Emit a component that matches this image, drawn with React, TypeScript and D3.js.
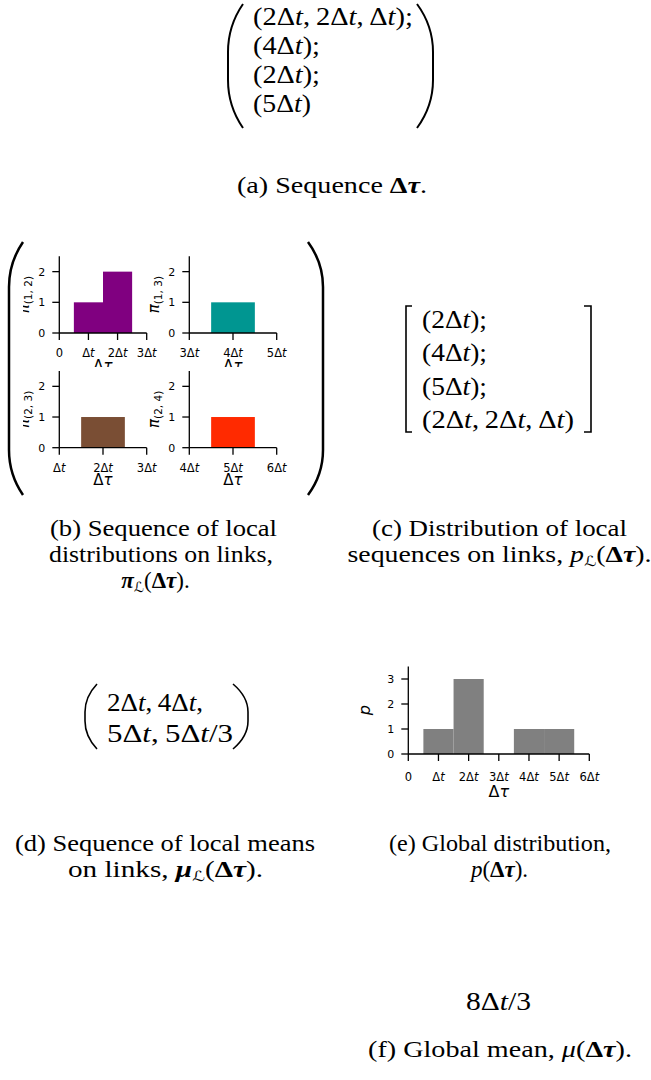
import * as d3 from 'd3';

// (a) sequence of inter-event times per link, in units of Δt
const seqA = [[2, 2, 1], [4], [2], [5]];
// (c) distribution of local sequences
const seqC = [[2], [4], [5], [2, 2, 1]];

// (b) local distributions on links
const linkNames = ['(1, 2)', '(1, 3)', '(2, 3)', '(2, 4)'];
const linkColors = ['#800080', '#009691', '#7a4e34', '#ff2a00'];
const linkDomains = [[0, 3], [3, 5], [1, 3], [4, 6]];
const linkTicks = [[0, 1, 2, 3], [3, 4, 5], [1, 2, 3], [4, 5, 6]];
const linkCenters = [[1, 2], [4], [2], [5]];
const linkCounts = [[1, 2], [1], [1], [1]];
const localTicksY = [0, 1, 2];

// (d) local means: numerator / denominator in Δt
const meanNum = [2, 4, 5, 5];
const meanDen = [1, 1, 1, 3];

// (e) global distribution
const globalCenters = [1, 2, 4, 5];
const globalCounts = [1, 3, 1, 1];
const globalTicksX = [0, 1, 2, 3, 4, 5, 6];
const globalTicksY = [0, 1, 2, 3];

// (f) global mean
const globalMean = [8, 3];

const SERIF = "'Liberation Serif', serif";
const SANS = "'DejaVu Sans', sans-serif";
const MATH_SIZE = 25;
const CAP_SIZE = 23;

const tickText = (n: number) =>
  n === 0 ? (
    '0'
  ) : (
    <>
      {n === 1 ? '' : n}Δ<tspan fontStyle="italic">t</tspan>
    </>
  );

const mult = (n: number, den = 1) => (
  <>
    {n === 1 ? '' : n}Δ<tspan fontStyle="italic">t</tspan>
    {den !== 1 ? `/${den}` : ''}
  </>
);

const BoldDtau = () => (
  <>
    (<tspan fontWeight="bold">Δ</tspan>
    <tspan fontWeight="bold" fontStyle="italic">τ</tspan>)
  </>
);

const SubL = () => (
  <tspan fontFamily={SANS} fontStyle="italic" fontSize={14} dy={4}>
    ℒ
  </tspan>
);

// parenthesis made of a curved top, straight middle, curved bottom
function parenPath(xTop: number, yTop: number, yBot: number, xExt: number, k: number) {
  const dx = xTop - xExt;
  return `M${xTop},${yTop} C${xTop - 0.55 * dx},${yTop + 0.25 * k} ${xExt},${yTop + 0.6 * k} ${xExt},${yTop + k}
    L${xExt},${yBot - k} C${xExt},${yBot - 0.6 * k} ${xTop - 0.55 * dx},${yBot - 0.25 * k} ${xTop},${yBot}`;
}

type HistProps = {
  left: number;
  bottom: number;
  width: number;
  height: number;
  xDomain: number[];
  yMax: number;
  xTicks: number[];
  yTicks: number[];
  centers: number[];
  counts: number[];
  color: string;
  ylabel: JSX.Element;
  ylabelGap: number;
  xlabelGap: number;
  xlabelSize: number;
  tickGap: number;
};

const Hist = ({
  left,
  bottom,
  width,
  height,
  xDomain,
  yMax,
  xTicks,
  yTicks,
  centers,
  counts,
  color,
  ylabel,
  ylabelGap,
  xlabelGap,
  xlabelSize,
  tickGap,
}: HistProps) => {
  const x = d3.scaleLinear().domain(xDomain).range([left, left + width]);
  const y = d3.scaleLinear().domain([0, yMax]).range([bottom, bottom - height]);
  const tick = 7;
  return (
    <g>
      {/* axes patch hides anything drawn under it */}
      <rect x={left} y={bottom - height - 4} width={width} height={height + 4} fill="white" />
      {centers.map((c, i) => (
        <rect
          key={i}
          x={x(c - 0.5)}
          y={y(counts[i])}
          width={x(c + 0.5) - x(c - 0.5)}
          height={y(0) - y(counts[i])}
          fill={color}
        />
      ))}
      <line x1={left} x2={left} y1={bottom - height} y2={bottom} stroke="black" strokeWidth={1.3} />
      <line x1={left} x2={left + width} y1={bottom} y2={bottom} stroke="black" strokeWidth={1.3} />
      {yTicks.map((t) => (
        <g key={'y' + t}>
          <line x1={left - tick} x2={left} y1={y(t)} y2={y(t)} stroke="black" strokeWidth={1.3} />
          <text
            x={left - tick - 7}
            y={y(t)}
            dy="0.36em"
            textAnchor="end"
            fontFamily={SANS}
            fontSize={11}
          >
            {t}
          </text>
        </g>
      ))}
      {xTicks.map((t) => (
        <g key={'x' + t}>
          <line x1={x(t)} x2={x(t)} y1={bottom} y2={bottom + tick} stroke="black" strokeWidth={1.3} />
          <text
            x={x(t)}
            y={bottom + tickGap}
            dy="0.36em"
            textAnchor="middle"
            fontFamily={SANS}
            fontSize={11.5}
          >
            {tickText(t)}
          </text>
        </g>
      ))}
      <text
        x={left + width / 2}
        y={bottom + xlabelGap}
        textAnchor="middle"
        fontFamily={SANS}
        fontSize={xlabelSize}
      >
        Δ<tspan fontStyle="italic">τ</tspan>
      </text>
      <text
        transform={`translate(${left - ylabelGap},${bottom - height / 2}) rotate(-90)`}
        textAnchor="middle"
        fontFamily={SANS}
      >
        {ylabel}
      </text>
    </g>
  );
};

// one row of a sequence: (2Δt, 2Δt, Δt);
const SeqRow = ({ row, last }: { row: number[]; last: boolean }) => (
  <>
    (
    {row.map((n, i) => (
      <tspan key={i}>
        {i > 0 ? ',\u2009' : ''}
        {mult(n)}
      </tspan>
    ))}
    ){last ? '' : ';'}
  </>
);

// widths of each typeset row, px (layout only)
const seqAWidths = [160, 67, 67, 58];
const seqCWidths = [65, 65, 65, 152];
const meanWidths = [96, 126];

const App = () => {
  const smallPos = [
    [59.3, 333],
    [189.3, 333],
    [59.3, 447.7],
    [189.3, 447.7],
  ];
  const meanRows = [
    [0, 1],
    [2, 3],
  ];
  const fit = (w: number) => ({ textLength: w, lengthAdjust: 'spacingAndGlyphs' as const });

  return (
    <svg
      width={651}
      height={1080}
      style={{ position: 'absolute', left: 0, top: 0, background: 'white' }}
    >
      <defs>
        <clipPath id="leftcol">
          <rect x={23} y={230} width={330} height={280} />
        </clipPath>
      </defs>

      {/* (a) */}
      <path d={parenPath(243, 4, 128, 228, 48)} fill="none" stroke="black" strokeWidth={2} />
      <path d={parenPath(417, 4, 128, 433, 48)} fill="none" stroke="black" strokeWidth={2} />
      <g fontFamily={SERIF} fontSize={MATH_SIZE}>
        {seqA.map((row, r) => (
          <text key={r} x={253} y={25 + r * 29} {...fit(seqAWidths[r])}>
            <SeqRow row={row} last={r === seqA.length - 1} />
          </text>
        ))}
      </g>
      <text
        x={332}
        y={193}
        textAnchor="middle"
        fontFamily={SERIF}
        fontSize={CAP_SIZE}
        {...fit(190)}
      >
        (a) Sequence <tspan fontWeight="bold">Δ</tspan>
        <tspan fontWeight="bold" fontStyle="italic">τ</tspan>.
      </text>

      {/* (b) */}
      <path d={parenPath(23, 242, 495, 9, 45)} fill="none" stroke="black" strokeWidth={2.5} />
      <path d={parenPath(308, 242, 495, 323, 45)} fill="none" stroke="black" strokeWidth={2.5} />
      {linkNames.map((name, i) => {
        const [left, bottom] = smallPos[i];
        const hist = (
          <Hist
            key={name}
            left={left}
            bottom={bottom}
            width={87.4}
            height={76.7}
            xDomain={linkDomains[i]}
            yMax={2.5}
            xTicks={linkTicks[i]}
            yTicks={localTicksY}
            centers={linkCenters[i]}
            counts={linkCounts[i]}
            color={linkColors[i]}
            ylabelGap={30}
            xlabelGap={37.5}
            xlabelSize={15}
            tickGap={20}
            ylabel={
              <>
                <tspan fontStyle="italic" fontSize={15}>
                  π
                </tspan>
                <tspan fontSize={10.5} dy={3}>
                  {name}
                </tspan>
              </>
            }
          />
        );
        return i % 2 === 0 ? (
          <g key={name} clipPath="url(#leftcol)">
            {hist}
          </g>
        ) : (
          hist
        );
      })}
      <g fontFamily={SERIF} fontSize={CAP_SIZE} textAnchor="middle">
        <text x={163.5} y={536} {...fit(227)}>
          (b) Sequence of local
        </text>
        <text x={161} y={562} {...fit(224)}>
          distributions on links,
        </text>
        <text x={155.5} y={588}>
          <tspan fontWeight="bold" fontStyle="italic">
            π
          </tspan>
          <SubL />
          <tspan dy={-4}>
            <BoldDtau />.
          </tspan>
        </text>
      </g>

      {/* (c) */}
      <path d="M412,306 L406,306 L406,432 L412,432" fill="none" stroke="black" strokeWidth={1.6} />
      <path d="M584,306 L591,306 L591,432 L584,432" fill="none" stroke="black" strokeWidth={1.6} />
      <g fontFamily={SERIF} fontSize={MATH_SIZE}>
        {seqC.map((row, r) => (
          <text key={r} x={422} y={328 + r * 33.3} {...fit(seqCWidths[r])}>
            <SeqRow row={row} last={r === seqC.length - 1} />
          </text>
        ))}
      </g>
      <g fontFamily={SERIF} fontSize={CAP_SIZE} textAnchor="middle">
        <text x={499.5} y={536} {...fit(255)}>
          (c) Distribution of local
        </text>
        <text x={499.5} y={562} {...fit(304)}>
          sequences on links, <tspan fontStyle="italic">p</tspan>
          <SubL />
          <tspan dy={-4}>
            <BoldDtau />.
          </tspan>
        </text>
      </g>

      {/* (d) */}
      <path d={parenPath(97, 684, 749, 85, 28)} fill="none" stroke="black" strokeWidth={1.6} />
      <path d={parenPath(233, 684, 749, 248, 28)} fill="none" stroke="black" strokeWidth={1.6} />
      <g fontFamily={SERIF} fontSize={MATH_SIZE}>
        {meanRows.map((idx, r) => (
          <text key={r} x={107} y={711 + r * 31} {...fit(meanWidths[r])}>
            {idx.map((k, j) => (
              <tspan key={k}>
                {j > 0 ? '\u2009' : ''}
                {mult(meanNum[k], meanDen[k])}
                {k < meanNum.length - 1 ? ',' : ''}
              </tspan>
            ))}
          </text>
        ))}
      </g>
      <g fontFamily={SERIF} fontSize={CAP_SIZE} textAnchor="middle">
        <text x={165} y={851} {...fit(300)}>
          (d) Sequence of local means
        </text>
        <text x={165.5} y={877} {...fit(195)}>
          on links,{' '}
          <tspan fontWeight="bold" fontStyle="italic">
            μ
          </tspan>
          <SubL />
          <tspan dy={-4}>
            <BoldDtau />.
          </tspan>
        </text>
      </g>

      {/* (e) */}
      <Hist
        left={408.3}
        bottom={754}
        width={181}
        height={87.5}
        xDomain={[0, 6]}
        yMax={3.5}
        xTicks={globalTicksX}
        yTicks={globalTicksY}
        centers={globalCenters}
        counts={globalCounts}
        color="#808080"
        ylabelGap={38}
        xlabelGap={43}
        xlabelSize={16}
        tickGap={22.5}
        ylabel={
          <tspan fontStyle="italic" fontSize={16}>
            p
          </tspan>
        }
      />
      <g fontFamily={SERIF} fontSize={CAP_SIZE} textAnchor="middle">
        <text x={500} y={851} {...fit(222)}>
          (e) Global distribution,
        </text>
        <text x={499.5} y={877}>
          <tspan fontStyle="italic">p</tspan>
          <BoldDtau />.
        </text>
      </g>

      {/* (f) */}
      <text
        x={498.5}
        y={1010}
        textAnchor="middle"
        fontFamily={SERIF}
        fontSize={MATH_SIZE}
        {...fit(65)}
      >
        {mult(globalMean[0], globalMean[1])}
      </text>
      <text
        x={500}
        y={1057}
        textAnchor="middle"
        fontFamily={SERIF}
        fontSize={CAP_SIZE}
        {...fit(264)}
      >
        (f) Global mean, <tspan fontStyle="italic">μ</tspan>
        <BoldDtau />.
      </text>
    </svg>
  );
};

export default App;
